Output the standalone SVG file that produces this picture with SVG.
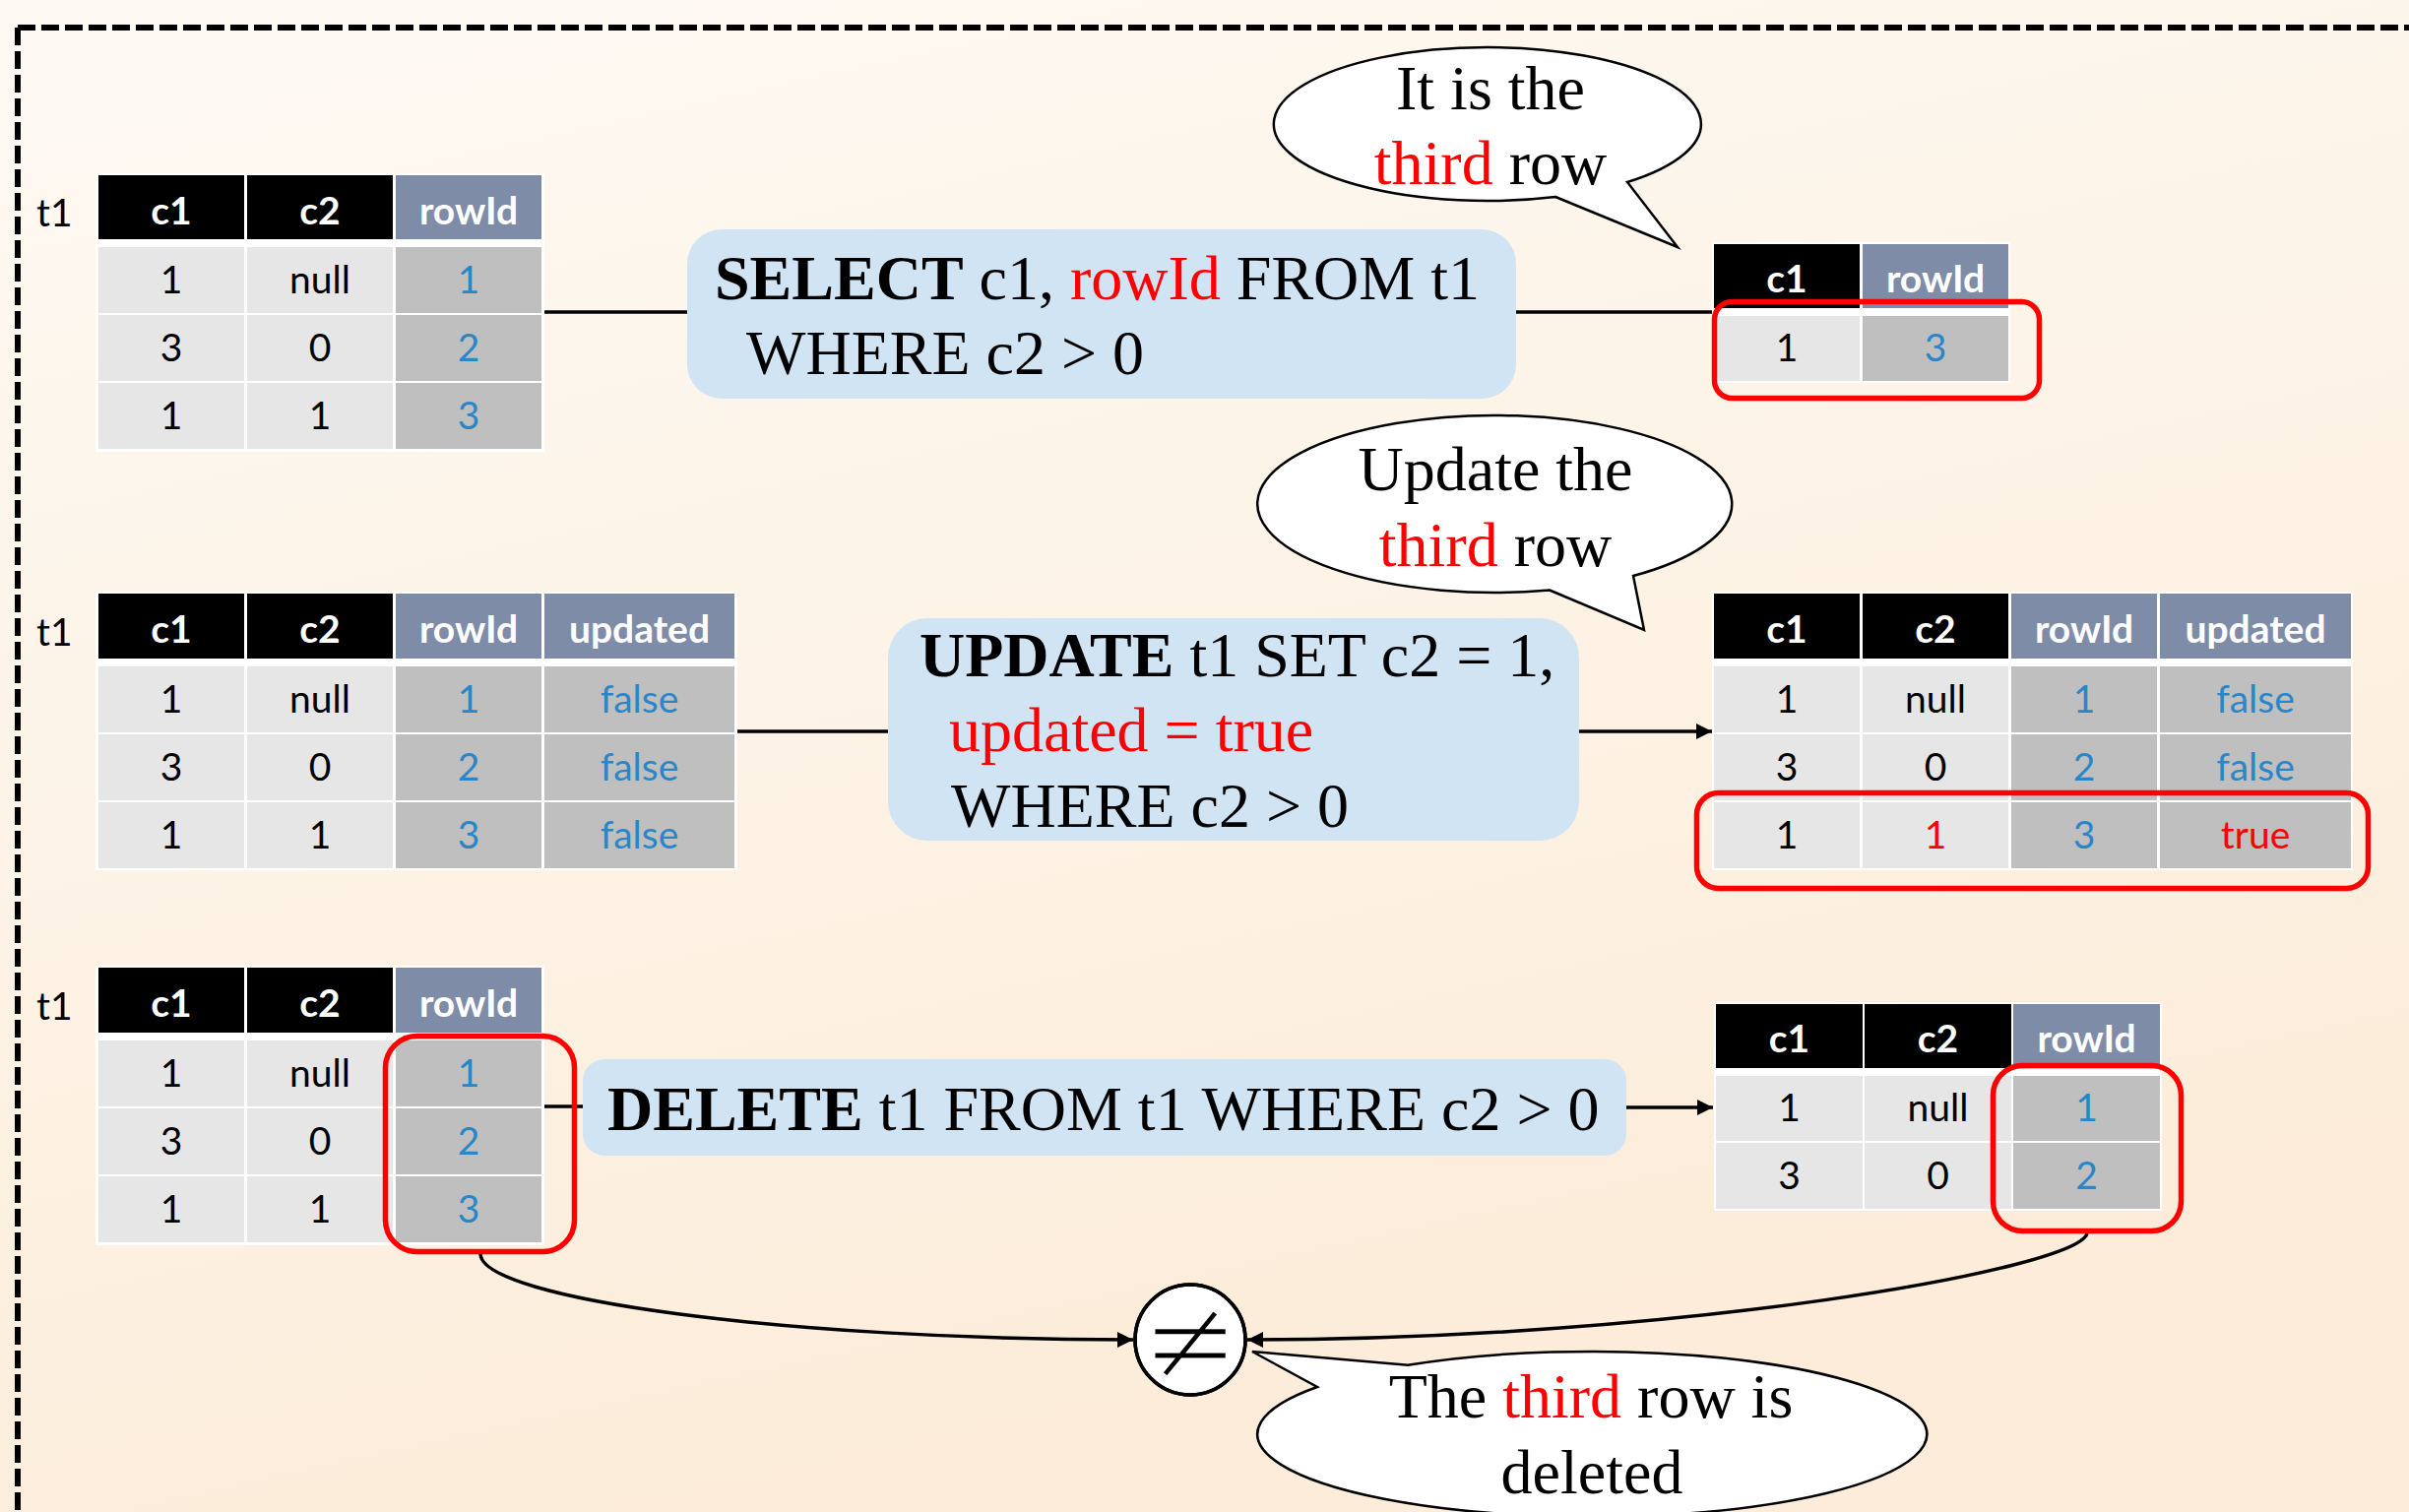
<svg xmlns="http://www.w3.org/2000/svg" width="2447" height="1536" viewBox="0 0 2447 1536">
  <defs>
    <linearGradient id="bg" x1="0" y1="0" x2="0.35" y2="1">
      <stop offset="0" stop-color="#fdf9f3"/>
      <stop offset="0.45" stop-color="#fdf4e8"/>
      <stop offset="1" stop-color="#fcecd9"/>
    </linearGradient>
    <marker id="arrow" viewBox="0 0 16 16" refX="16" refY="8" markerWidth="16" markerHeight="16" markerUnits="userSpaceOnUse" orient="auto">
      <path d="M0,0 L16,8 L0,16 Z" fill="#000"/>
    </marker>
    <style>
      .frame { fill: none; stroke: #000; stroke-width: 6; stroke-dasharray: 18 6; }
      .tbg { fill: #fff; }
      .hk { fill: #000; }
      .hs { fill: #7f8ca8; }
      .cl { fill: #e6e6e6; }
      .cd { fill: #bfbfbf; }
      .th { font-family: Lato, "Open Sans", sans-serif; font-weight: 700; font-size: 39px; fill: #fff; text-anchor: middle; }
      .td { font-family: Lato, "Open Sans", sans-serif; font-size: 39px; fill: #000; text-anchor: middle; }
      .lbl { font-family: Lato, "Open Sans", sans-serif; font-size: 39px; fill: #000; }
      .query { fill: #d0e4f3; }
      .sql { font-family: "Liberation Serif", "Times New Roman", serif; font-size: 64px; fill: #000; }
      .kw { font-weight: 700; }
      .mark { fill: none; stroke: #ff0000; stroke-width: 5.5; }
      .bubble { fill: #fff; stroke: #000; stroke-width: 2.5; stroke-linejoin: miter; }
      .note { font-family: "Liberation Serif", "Times New Roman", serif; font-size: 64px; fill: #000; text-anchor: middle; }
      .link { fill: none; stroke: #000; stroke-width: 3.5; }
      .blue { fill: #2b86c8; }
      .red { fill: #ff0000; }
    </style>
  </defs>

  <!-- background -->
  <rect x="0" y="0" width="2447" height="1536" fill="url(#bg)"/>
  <path class="frame" d="M18,28 H2470"/>
  <path class="frame" d="M18,28 V1560"/>

  <!-- connectors -->
  <g id="connectors">
    <path class="link" d="M553,317 H698"/>
    <path class="link" d="M1540,317 H1741"/>
    <path class="link" d="M748,743 H902"/>
    <path class="link" d="M1603,743 H1739" marker-end="url(#arrow)"/>
    <path class="link" d="M553,1124 H592"/>
    <path class="link" d="M1652,1125 H1740" marker-end="url(#arrow)"/>
    <path class="link" d="M488,1274 C490,1320 800,1361 1151,1361" marker-end="url(#arrow)"/>
    <path class="link" d="M2120,1253 C2110,1290 1700,1361 1267,1361" marker-end="url(#arrow)"/>
  </g>

  <!-- source table for SELECT -->
  <g id="table-select-src">
    <text class="lbl" x="37" y="230">t1</text>
    <rect class="tbg" x="97" y="176" width="456" height="283"/>
    <rect class="hk" x="100" y="178" width="148" height="65"/>
    <rect class="hk" x="251" y="178" width="148" height="65"/>
    <rect class="hs" x="402" y="178" width="148" height="65"/>
    <text class="th" x="174" y="228">c1</text>
    <text class="th" x="325" y="228">c2</text>
    <text class="th" x="476" y="228">rowId</text>
    <rect class="cl" x="100" y="251" width="148" height="67"/>
    <rect class="cl" x="251" y="251" width="148" height="67"/>
    <rect class="cd" x="402" y="251" width="148" height="67"/>
    <rect class="cl" x="100" y="320" width="148" height="67"/>
    <rect class="cl" x="251" y="320" width="148" height="67"/>
    <rect class="cd" x="402" y="320" width="148" height="67"/>
    <rect class="cl" x="100" y="389" width="148" height="67"/>
    <rect class="cl" x="251" y="389" width="148" height="67"/>
    <rect class="cd" x="402" y="389" width="148" height="67"/>
    <text class="td" x="174" y="298">1</text>
    <text class="td" x="325" y="298">null</text>
    <text class="td blue" x="476" y="298">1</text>
    <text class="td" x="174" y="367">3</text>
    <text class="td" x="325" y="367">0</text>
    <text class="td blue" x="476" y="367">2</text>
    <text class="td" x="174" y="436">1</text>
    <text class="td" x="325" y="436">1</text>
    <text class="td blue" x="476" y="436">3</text>
  </g>

  <!-- SELECT query -->
  <g id="query-select">
    <rect class="query" x="698" y="233" width="842" height="172" rx="35"/>
    <text class="sql" x="726" y="304"><tspan class="kw">SELECT</tspan> c1, <tspan class="red">rowId</tspan> FROM t1</text>
    <text class="sql" x="758" y="380">WHERE c2 &gt; 0</text>
  </g>

  <!-- SELECT result -->
  <g id="table-select-result">
    <rect class="tbg" x="1739" y="246" width="303" height="143"/>
    <rect class="hk" x="1741" y="248" width="148" height="65"/>
    <rect class="hs" x="1892" y="248" width="148" height="65"/>
    <text class="th" x="1815" y="297">c1</text>
    <text class="th" x="1966" y="297">rowId</text>
    <rect class="cl" x="1741" y="321" width="148" height="66"/>
    <rect class="cd" x="1892" y="321" width="148" height="66"/>
    <text class="td" x="1815" y="367">1</text>
    <text class="td blue" x="1966" y="367">3</text>
    <rect class="mark" x="1741.5" y="306.5" width="330" height="98" rx="18"/>
  </g>

  <!-- callout: selected row -->
  <g id="note-select">
    <path class="bubble" d="M1580,200 L1704,251 L1653,185 A217,78 0 1 0 1580,200 Z"/>
    <text class="note" x="1514" y="111">It is the</text>
    <text class="note" x="1514" y="187"><tspan class="red">third</tspan> row</text>
  </g>

  <!-- source table for UPDATE -->
  <g id="table-update-src">
    <text class="lbl" x="37" y="656">t1</text>
    <rect class="tbg" x="97" y="601" width="652" height="283"/>
    <rect class="hk" x="100" y="603" width="148" height="66"/>
    <rect class="hk" x="251" y="603" width="148" height="66"/>
    <rect class="hs" x="402" y="603" width="148" height="66"/>
    <rect class="hs" x="553" y="603" width="193" height="66"/>
    <text class="th" x="174" y="653">c1</text>
    <text class="th" x="325" y="653">c2</text>
    <text class="th" x="476" y="653">rowId</text>
    <text class="th" x="649.5" y="653">updated</text>
    <rect class="cl" x="100" y="677" width="148" height="67"/>
    <rect class="cl" x="251" y="677" width="148" height="67"/>
    <rect class="cd" x="402" y="677" width="148" height="67"/>
    <rect class="cd" x="553" y="677" width="193" height="67"/>
    <rect class="cl" x="100" y="746" width="148" height="67"/>
    <rect class="cl" x="251" y="746" width="148" height="67"/>
    <rect class="cd" x="402" y="746" width="148" height="67"/>
    <rect class="cd" x="553" y="746" width="193" height="67"/>
    <rect class="cl" x="100" y="815" width="148" height="67"/>
    <rect class="cl" x="251" y="815" width="148" height="67"/>
    <rect class="cd" x="402" y="815" width="148" height="67"/>
    <rect class="cd" x="553" y="815" width="193" height="67"/>
    <text class="td" x="174" y="724">1</text>
    <text class="td" x="325" y="724">null</text>
    <text class="td blue" x="476" y="724">1</text>
    <text class="td blue" x="649.5" y="724">false</text>
    <text class="td" x="174" y="793">3</text>
    <text class="td" x="325" y="793">0</text>
    <text class="td blue" x="476" y="793">2</text>
    <text class="td blue" x="649.5" y="793">false</text>
    <text class="td" x="174" y="862">1</text>
    <text class="td" x="325" y="862">1</text>
    <text class="td blue" x="476" y="862">3</text>
    <text class="td blue" x="649.5" y="862">false</text>
  </g>

  <!-- UPDATE query -->
  <g id="query-update">
    <rect class="query" x="902" y="628" width="702" height="226" rx="40"/>
    <text class="sql" x="934" y="687"><tspan class="kw">UPDATE</tspan> t1 SET c2 = 1,</text>
    <text class="sql" x="964" y="763"><tspan class="red">updated = true</tspan></text>
    <text class="sql" x="966" y="840">WHERE c2 &gt; 0</text>
  </g>

  <!-- UPDATE result -->
  <g id="table-update-result">
    <rect class="tbg" x="1739" y="601" width="651" height="283"/>
    <rect class="hk" x="1741" y="603" width="148" height="66"/>
    <rect class="hk" x="1892" y="603" width="148" height="66"/>
    <rect class="hs" x="2043" y="603" width="148" height="66"/>
    <rect class="hs" x="2194" y="603" width="194" height="66"/>
    <text class="th" x="1815" y="653">c1</text>
    <text class="th" x="1966" y="653">c2</text>
    <text class="th" x="2117" y="653">rowId</text>
    <text class="th" x="2291" y="653">updated</text>
    <rect class="cl" x="1741" y="677" width="148" height="67"/>
    <rect class="cl" x="1892" y="677" width="148" height="67"/>
    <rect class="cd" x="2043" y="677" width="148" height="67"/>
    <rect class="cd" x="2194" y="677" width="194" height="67"/>
    <rect class="cl" x="1741" y="746" width="148" height="67"/>
    <rect class="cl" x="1892" y="746" width="148" height="67"/>
    <rect class="cd" x="2043" y="746" width="148" height="67"/>
    <rect class="cd" x="2194" y="746" width="194" height="67"/>
    <rect class="cl" x="1741" y="815" width="148" height="67"/>
    <rect class="cl" x="1892" y="815" width="148" height="67"/>
    <rect class="cd" x="2043" y="815" width="148" height="67"/>
    <rect class="cd" x="2194" y="815" width="194" height="67"/>
    <text class="td" x="1815" y="724">1</text>
    <text class="td" x="1966" y="724">null</text>
    <text class="td blue" x="2117" y="724">1</text>
    <text class="td blue" x="2291" y="724">false</text>
    <text class="td" x="1815" y="793">3</text>
    <text class="td" x="1966" y="793">0</text>
    <text class="td blue" x="2117" y="793">2</text>
    <text class="td blue" x="2291" y="793">false</text>
    <text class="td" x="1815" y="862">1</text>
    <text class="td red" x="1966" y="862">1</text>
    <text class="td blue" x="2117" y="862">3</text>
    <text class="td red" x="2291" y="862">true</text>
    <rect class="mark" x="1723.5" y="805.5" width="682" height="97" rx="22"/>
  </g>

  <!-- callout: updated row -->
  <g id="note-update">
    <path class="bubble" d="M1574,599.5 L1670,640 L1659,585 A241,90 0 1 0 1574,599.5 Z"/>
    <text class="note" x="1519" y="498">Update the</text>
    <text class="note" x="1519" y="575"><tspan class="red">third</tspan> row</text>
  </g>

  <!-- source table for DELETE -->
  <g id="table-delete-src">
    <text class="lbl" x="37" y="1036">t1</text>
    <rect class="tbg" x="97" y="981" width="456" height="284"/>
    <rect class="hk" x="100" y="983" width="148" height="66"/>
    <rect class="hk" x="251" y="983" width="148" height="66"/>
    <rect class="hs" x="402" y="983" width="148" height="66"/>
    <text class="th" x="174" y="1033">c1</text>
    <text class="th" x="325" y="1033">c2</text>
    <text class="th" x="476" y="1033">rowId</text>
    <rect class="cl" x="100" y="1057" width="148" height="67"/>
    <rect class="cl" x="251" y="1057" width="148" height="67"/>
    <rect class="cd" x="402" y="1057" width="148" height="67"/>
    <rect class="cl" x="100" y="1126" width="148" height="67"/>
    <rect class="cl" x="251" y="1126" width="148" height="67"/>
    <rect class="cd" x="402" y="1126" width="148" height="67"/>
    <rect class="cl" x="100" y="1195" width="148" height="67"/>
    <rect class="cl" x="251" y="1195" width="148" height="67"/>
    <rect class="cd" x="402" y="1195" width="148" height="67"/>
    <text class="td" x="174" y="1104">1</text>
    <text class="td" x="325" y="1104">null</text>
    <text class="td blue" x="476" y="1104">1</text>
    <text class="td" x="174" y="1173">3</text>
    <text class="td" x="325" y="1173">0</text>
    <text class="td blue" x="476" y="1173">2</text>
    <text class="td" x="174" y="1242">1</text>
    <text class="td" x="325" y="1242">1</text>
    <text class="td blue" x="476" y="1242">3</text>
    <rect class="mark" x="391.5" y="1052.5" width="192" height="219" rx="32"/>
  </g>

  <!-- DELETE query -->
  <g id="query-delete">
    <rect class="query" x="592" y="1076" width="1060" height="98" rx="22"/>
    <text class="sql" x="617" y="1148"><tspan class="kw">DELETE</tspan> t1 FROM t1 WHERE c2 &gt; 0</text>
  </g>

  <!-- DELETE result -->
  <g id="table-delete-result">
    <rect class="tbg" x="1741" y="1018" width="455" height="212"/>
    <rect class="hk" x="1743" y="1020" width="149" height="65"/>
    <rect class="hk" x="1894" y="1020" width="149" height="65"/>
    <rect class="hs" x="2045" y="1020" width="149" height="65"/>
    <text class="th" x="1817.5" y="1069">c1</text>
    <text class="th" x="1968.5" y="1069">c2</text>
    <text class="th" x="2119.5" y="1069">rowId</text>
    <rect class="cl" x="1743" y="1093" width="149" height="66"/>
    <rect class="cl" x="1894" y="1093" width="149" height="66"/>
    <rect class="cd" x="2045" y="1093" width="149" height="66"/>
    <rect class="cl" x="1743" y="1161" width="149" height="67"/>
    <rect class="cl" x="1894" y="1161" width="149" height="67"/>
    <rect class="cd" x="2045" y="1161" width="149" height="67"/>
    <text class="td" x="1817.5" y="1139">1</text>
    <text class="td" x="1968.5" y="1139">null</text>
    <text class="td blue" x="2119.5" y="1139">1</text>
    <text class="td" x="1817.5" y="1208">3</text>
    <text class="td" x="1968.5" y="1208">0</text>
    <text class="td blue" x="2119.5" y="1208">2</text>
    <rect class="mark" x="2024.5" y="1082.5" width="191" height="168" rx="30"/>
  </g>

  <!-- comparison operator: glyph thinned by a white outline painted over it -->
  <g id="not-equal">
    <circle cx="1209" cy="1361" r="56" fill="#fff" stroke="#000" stroke-width="3.5"/>
    <text x="1209" y="1403" font-family="DejaVu Sans, sans-serif" font-size="122" fill="#000" stroke="#fff" stroke-width="5" text-anchor="middle">≠</text>
    <circle cx="1209" cy="1361" r="56" fill="none" stroke="#000" stroke-width="3.5"/>
  </g>

  <!-- callout: deleted row -->
  <g id="note-delete">
    <path class="bubble" d="M1430,1386.8 L1272,1373 L1338,1409 A340,84 0 1 0 1430,1386.8 Z"/>
    <text class="note" x="1616" y="1440">The <tspan class="red">third</tspan> row is</text>
    <text class="note" x="1617" y="1517">deleted</text>
  </g>
</svg>
